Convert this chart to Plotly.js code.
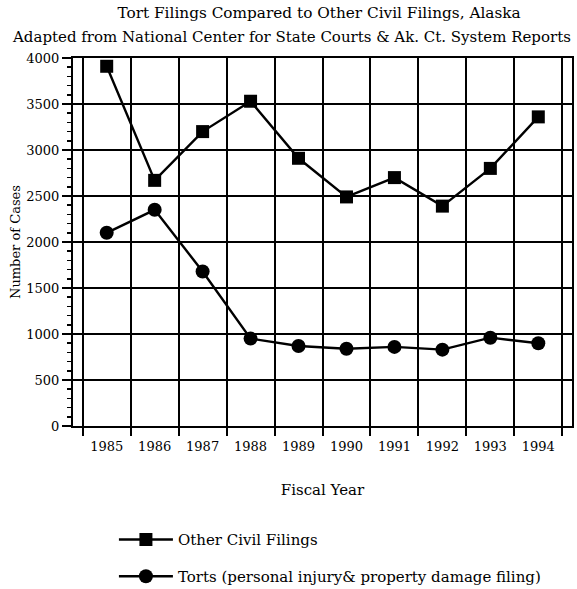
<!DOCTYPE html>
<html>
<head>
<meta charset="utf-8">
<script src="https://cdn.plot.ly/plotly-3.0.1.min.js"></script>
<style>html,body{margin:0;padding:0;background:#fff;}#chart{width:577px;height:589px;}</style>
</head>
<body>
<div id="chart"></div>
<script>
const years = ["1985","1986","1987","1988","1989","1990","1991","1992","1993","1994"];
const otherCivil = [3910, 2670, 3200, 3530, 2910, 2490, 2700, 2390, 2800, 3360];
const torts = [2100, 2350, 1680, 950, 870, 840, 860, 830, 960, 900];
const yTicks = [0, 500, 1000, 1500, 2000, 2500, 3000, 3500, 4000];

const serif = "DejaVu Serif, Liberation Serif, serif";

const traces = [
  {x: years, y: otherCivil, type: "scatter", mode: "lines+markers", name: "Other Civil Filings",
   line: {color: "#000", width: 2.4}, marker: {symbol: "square", size: 13, color: "#000"}, legend: "legend"},
  {x: years, y: torts, type: "scatter", mode: "lines+markers", name: "Torts (personal injury& property damage filing)",
   line: {color: "#000", width: 2.4}, marker: {symbol: "circle", size: 14, color: "#000"}, legend: "legend2"}
];

const layout = {
  width: 577, height: 589,
  margin: {l: 73, r: 5, t: 58, b: 163, autoexpand: false},
  paper_bgcolor: "#fff", plot_bgcolor: "#fff",
  font: {family: serif, color: "#000", size: 13},
  showlegend: true,
  title: {
    text: "Tort Filings Compared to Other Civil Filings, Alaska",
    font: {family: serif, size: 15.3, color: "#000"},
    x: 0.553, xanchor: "center", xref: "container",
    y: 0.979, yanchor: "middle", yref: "container", automargin: false
  },
  annotations: [{
    text: "Adapted from National Center for State Courts &amp; Ak. Ct. System Reports",
    xref: "paper", yref: "paper", x: 0.437, y: 1.057, xanchor: "center", yanchor: "middle",
    showarrow: false, font: {family: serif, size: 15, color: "#000"}
  }],
  xaxis: {
    type: "category",
    tickson: "boundaries",
    automargin: false,
    showgrid: true, gridcolor: "#000", gridwidth: 2,
    showline: true, linecolor: "#000", linewidth: 2, mirror: true,
    ticks: "outside", ticklen: 8, tickwidth: 2, tickcolor: "#000",
    ticklabelstandoff: 7,
    tickfont: {family: serif, size: 13, color: "#000"},
    title: {text: "Fiscal Year", font: {family: serif, size: 15, color: "#000"}, standoff: 32},
    zeroline: false, fixedrange: true
  },
  yaxis: {
    range: [0, 4000],
    tickvals: yTicks,
    automargin: false,
    showgrid: true, gridcolor: "#000", gridwidth: 2,
    showline: true, linecolor: "#000", linewidth: 2, mirror: true,
    ticks: "outside", ticklen: 9, tickwidth: 2, tickcolor: "#000",
    minor: {dtick: 100, ticks: "outside", ticklen: 4, tickwidth: 1.5, tickcolor: "#000", showgrid: false},
    tickfont: {family: serif, size: 13, color: "#000"},
    title: {text: "Number of Cases", font: {family: serif, size: 13, color: "#000"}, standoff: 3},
    zeroline: false, fixedrange: true
  },
  legend: {x: 0.082, xanchor: "left", y: -0.309, yanchor: "middle", bgcolor: "rgba(0,0,0,0)", itemwidth: 54,
           font: {family: serif, size: 15, color: "#000"}},
  legend2: {x: 0.082, xanchor: "left", y: -0.409, yanchor: "middle", bgcolor: "rgba(0,0,0,0)", itemwidth: 54,
            font: {family: serif, size: 15, color: "#000"}}
};

Plotly.newPlot("chart", traces, layout, {displayModeBar: false, staticPlot: true});
</script>
</body>
</html>
